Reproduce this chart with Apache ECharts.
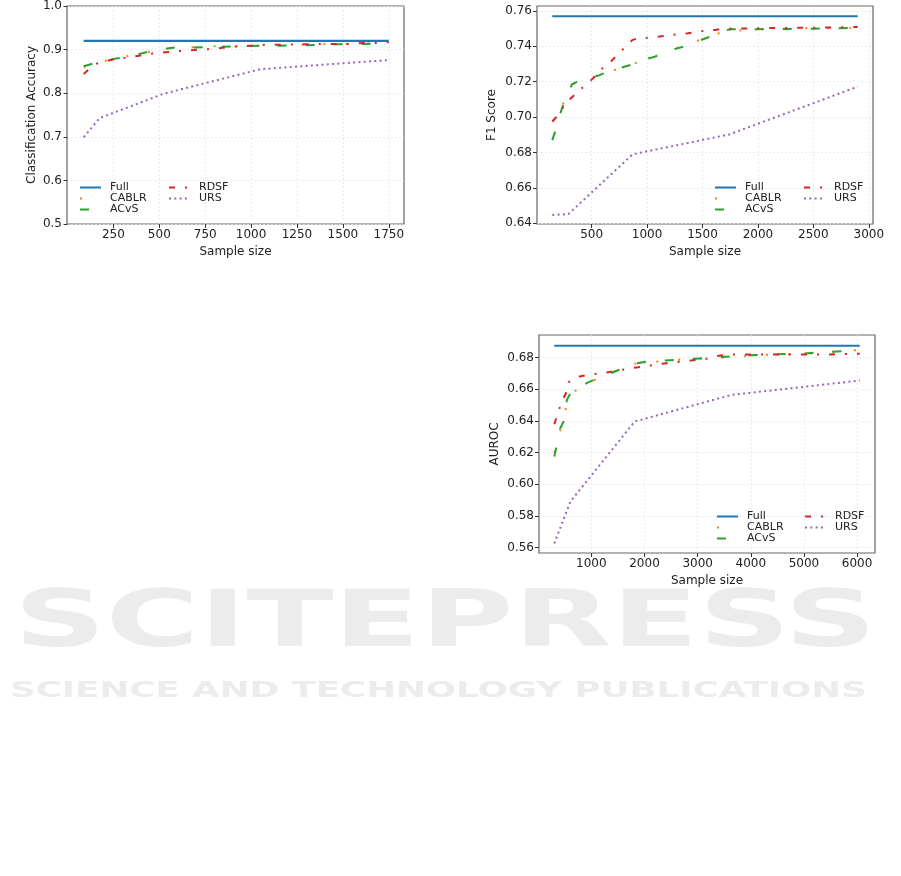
<!DOCTYPE html>
<html>
<head>
<meta charset="utf-8">
<script src="https://cdn.jsdelivr.net/npm/echarts@6/dist/echarts.min.js"></script>
<style>
html,body{margin:0;padding:0;background:#fff;}
#chart{width:901px;height:876px;}
</style>
</head>
<body>
<div id="chart"></div>
<script>
// ---------------- Chart 1: Classification Accuracy ----------------
var accFullX = [88, 1750];
var accFull = [0.920, 0.920];
var accCablrX = [88, 212, 330, 450, 566, 685, 802, 920, 1044, 1165, 1375, 1645, 1750];
var accCablr = [0.860, 0.875, 0.8856, 0.895, 0.903, 0.9055, 0.9078, 0.908, 0.909, 0.9095, 0.9124, 0.914, 0.917];
var accAcvsX = [88, 140, 212, 303, 412, 457, 567, 621, 800, 948, 1110, 1276, 1440, 1605, 1750];
var accAcvs = [0.862, 0.868, 0.876, 0.882, 0.892, 0.897, 0.904, 0.904, 0.906, 0.908, 0.909, 0.9095, 0.912, 0.913, 0.915];
var accRdsfX = [88, 112, 161, 235, 312, 390, 463, 535, 612, 690, 766, 843, 920, 1000, 1080, 1150, 1232, 1307, 1386, 1460, 1537, 1613, 1690, 1750];
var accRdsf = [0.844, 0.853, 0.868, 0.876, 0.881, 0.886, 0.891, 0.894, 0.897, 0.899, 0.901, 0.904, 0.907, 0.909, 0.911, 0.911, 0.912, 0.912, 0.913, 0.913, 0.913, 0.915, 0.915, 0.917];
var accUrsX = [88, 175, 525, 1050, 1750];
var accUrs = [0.699, 0.743, 0.799, 0.855, 0.876];
var accXTicks = [250, 500, 750, 1000, 1250, 1500, 1750];
var accYTicks = [0.5, 0.6, 0.7, 0.8, 0.9, 1.0];

// ---------------- Chart 2: F1 Score ----------------
var f1FullX = [145, 2900];
var f1Full = [0.757, 0.757];
var f1CablrX = [145, 209, 263, 330, 576, 760, 947, 1323, 1510, 1700, 2091, 2296, 2900];
var f1Cablr = [0.6975, 0.6996, 0.712, 0.7185, 0.7237, 0.7278, 0.7316, 0.7401, 0.7444, 0.7485, 0.7497, 0.7501, 0.7504];
var f1AcvsX = [145, 180, 224, 254, 323, 405, 570, 660, 841, 916, 1097, 1178, 1353, 1435, 1609, 1690, 1760, 1900, 2200, 2500, 2900];
var f1Acvs = [0.687, 0.6936, 0.7034, 0.7086, 0.7186, 0.7209, 0.7237, 0.726, 0.7293, 0.7316, 0.7346, 0.7373, 0.7402, 0.7425, 0.7463, 0.7489, 0.7497, 0.7497, 0.7498, 0.750, 0.7505];
var f1RdsfX = [145, 179, 239, 305, 344, 419, 495, 534, 600, 676, 715, 790, 866, 907, 1007, 1112, 1157, 1263, 1368, 1413, 1510, 1615, 1660, 1766, 1907, 2195, 2500, 2900];
var f1Rdsf = [0.6977, 0.6998, 0.7053, 0.7102, 0.7124, 0.7168, 0.7209, 0.7233, 0.7278, 0.7316, 0.734, 0.7388, 0.7435, 0.7444, 0.7448, 0.7455, 0.7459, 0.7467, 0.7474, 0.7478, 0.7487, 0.7493, 0.7497, 0.7501, 0.7501, 0.7504, 0.7505, 0.751];
var f1UrsX = [145, 290, 870, 1740, 2900];
var f1Urs = [0.6447, 0.6452, 0.6790, 0.6902, 0.7172];
var f1XTicks = [500, 1000, 1500, 2000, 2500, 3000];
var f1YTicks = [0.64, 0.66, 0.68, 0.70, 0.72, 0.74, 0.76];

// ---------------- Chart 3: AUROC ----------------
var aucFullX = [302, 6050];
var aucFull = [0.6875, 0.6875];
var aucCablrX = [302, 396, 496, 605, 960, 1358, 1717, 2100, 2540, 2968, 3500, 4207, 4641, 5100, 5887, 6050];
var aucCablr = [0.620, 0.6312, 0.6451, 0.657, 0.6645, 0.6701, 0.6758, 0.677, 0.6785, 0.6795, 0.680, 0.6817, 0.682, 0.6825, 0.6846, 0.6846];
var aucAcvsX = [302, 332, 383, 477, 540, 634, 949, 1170, 1515, 1672, 2049, 2219, 2615, 2774, 3151, 3370, 3747, 3906, 4380, 4950, 5500, 6050];
var aucAcvs = [0.6175, 0.6217, 0.633, 0.6396, 0.6533, 0.6592, 0.6645, 0.6676, 0.6722, 0.6754, 0.6775, 0.678, 0.6785, 0.679, 0.6796, 0.6802, 0.681, 0.6815, 0.682, 0.6825, 0.6837, 0.6844];
var aucRdsfX = [302, 332, 396, 477, 521, 572, 728, 823, 1043, 1264, 1358, 1566, 1786, 1880, 2100, 2302, 2407, 2630, 2836, 2930, 3132, 3351, 3464, 3666, 3962, 4500, 5000, 5500, 6050];
var aucRdsf = [0.638, 0.641, 0.6476, 0.6544, 0.6575, 0.6645, 0.6676, 0.6684, 0.6695, 0.6705, 0.671, 0.6722, 0.6735, 0.6739, 0.675, 0.676, 0.6765, 0.6772, 0.678, 0.6785, 0.679, 0.681, 0.6815, 0.682, 0.682, 0.682, 0.682, 0.682, 0.6825];
var aucUrsX = [302, 605, 1815, 3630, 6050];
var aucUrs = [0.5625, 0.589, 0.6396, 0.6564, 0.6655];
var aucXTicks = [1000, 2000, 3000, 4000, 5000, 6000];
var aucYTicks = [0.56, 0.58, 0.60, 0.62, 0.64, 0.66, 0.68];

var seriesNames = ['Full', 'CABLR', 'ACvS', 'RDSF', 'URS'];
var yNames = ['Classification Accuracy', 'F1 Score', 'AUROC'];
var xName = 'Sample size';

// ---------------- styling ----------------
var FONT = 'DejaVu Sans';
var styles = {
  'Full':  {color: '#1f77b4', type: 'solid', width: 2.2},
  'CABLR': {color: '#ff7f0e', type: [2, 20], width: 2},
  'ACvS':  {color: '#2ca02c', type: [9, 19], width: 2},
  'RDSF':  {color: '#d62728', type: [6, 10, 2, 10], width: 2},
  'URS':   {color: '#9467bd', type: [2, 3.3], width: 2}
};

function zip(xs, ys) { return xs.map(function (x, i) { return [x, ys[i]]; }); }

function mk(name, xs, ys, idx) {
  var s = styles[name];
  return {
    type: 'line', name: name, xAxisIndex: idx, yAxisIndex: idx,
    data: zip(xs, ys), symbol: 'none', showSymbol: false, animation: false,
    silent: true,
    lineStyle: {color: s.color, type: s.type, width: s.width, cap: 'butt'},
    itemStyle: {color: s.color}
  };
}

var grids = [
  {left: 67, top: 6, width: 337, height: 218},
  {left: 537, top: 6, width: 336, height: 218},
  {left: 539, top: 335, width: 336, height: 218}
];
grids.forEach(function (g) {
  g.show = true; g.borderColor = '#666'; g.borderWidth = 1.2; g.backgroundColor = 'transparent';
});

function xAxis(idx, min, max, step, ticks) {
  return {
    type: 'value', gridIndex: idx, min: min, max: max,
    minInterval: step, maxInterval: step,
    name: xName, nameLocation: 'middle', nameGap: 22,
    nameTextStyle: {fontFamily: FONT, fontSize: 12, color: '#222'},
    axisLine: {show: false},
    axisTick: {show: true, length: 4, customValues: ticks, lineStyle: {color: '#333', width: 1}},
    axisLabel: {customValues: ticks, showMinLabel: true, showMaxLabel: true, fontFamily: FONT, fontSize: 12, color: '#222', margin: 5,
      formatter: function (v) { return String(Math.round(v)); }},
    splitLine: {show: true, lineStyle: {color: '#e6e6e6', type: [2, 2], width: 0.8}}
  };
}
function yAxis(idx, min, max, step, ticks, dec, gap) {
  return {
    type: 'value', gridIndex: idx, min: min, max: max,
    minInterval: step, maxInterval: step,
    name: yNames[idx], nameLocation: 'middle', nameGap: gap, nameRotate: 90,
    nameTextStyle: {fontFamily: FONT, fontSize: 12, color: '#222'},
    axisLine: {show: false},
    axisTick: {show: true, length: 4, customValues: ticks, lineStyle: {color: '#333', width: 1}},
    axisLabel: {customValues: ticks, fontFamily: FONT, fontSize: 12, color: '#222', margin: 5,
      formatter: function (v) { return v.toFixed(dec); }},
    splitLine: {show: true, lineStyle: {color: '#e6e6e6', type: [2, 2], width: 0.8}}
  };
}

function legend(names, left, top) {
  return {
    data: names, orient: 'vertical', left: left, top: top, padding: 0,
    itemWidth: 21, itemHeight: 11, itemGap: 0, selectedMode: false,
    itemStyle: {color: 'rgba(0,0,0,0)', borderColor: 'rgba(0,0,0,0)', borderWidth: 0},
    textStyle: {fontFamily: FONT, fontSize: 11, color: '#222', lineHeight: 11, padding: [0, 0, 0, 4]}
  };
}

var series = [];
[[accFullX, accFull], [accCablrX, accCablr], [accAcvsX, accAcvs], [accRdsfX, accRdsf], [accUrsX, accUrs]].forEach(function (p, i) {
  series.push(mk(seriesNames[i], p[0], p[1], 0));
});
[[f1FullX, f1Full], [f1CablrX, f1Cablr], [f1AcvsX, f1Acvs], [f1RdsfX, f1Rdsf], [f1UrsX, f1Urs]].forEach(function (p, i) {
  series.push(mk(seriesNames[i], p[0], p[1], 1));
});
[[aucFullX, aucFull], [aucCablrX, aucCablr], [aucAcvsX, aucAcvs], [aucRdsfX, aucRdsf], [aucUrsX, aucUrs]].forEach(function (p, i) {
  series.push(mk(seriesNames[i], p[0], p[1], 2));
});

var option = {
  animation: false,
  backgroundColor: '#fff',
  grid: grids,
  xAxis: [
    xAxis(0, -3, 1833, 250, accXTicks),
    xAxis(1, 7, 3038, 500, f1XTicks),
    xAxis(2, 15, 6337, 1000, aucXTicks)
  ],
  yAxis: [
    yAxis(0, 0.5, 1.0, 0.1, accYTicks, 1, 29),
    yAxis(1, 0.6396, 0.7628, 0.02, f1YTicks, 2, 39),
    yAxis(2, 0.5565, 0.6943, 0.02, aucYTicks, 2, 38)
  ],
  legend: [
    legend(['Full', 'CABLR', 'ACvS'], 79, 182),
    legend(['RDSF', 'URS'], 168, 182),
    legend(['Full', 'CABLR', 'ACvS'], 714, 182),
    legend(['RDSF', 'URS'], 803, 182),
    legend(['Full', 'CABLR', 'ACvS'], 716, 511),
    legend(['RDSF', 'URS'], 804, 511)
  ],
  graphic: [
    {type: 'text', x: 14, y: 586, z: -10, scaleX: 1.48, scaleY: 0.92, silent: true,
      style: {text: 'SCITEPRESS', font: 'bold 86px "DejaVu Sans"', fill: '#ececec', textVerticalAlign: 'top'}},
    {type: 'text', x: 10, y: 680, z: -10, scaleX: 1.37, scaleY: 0.85, silent: true,
      style: {text: 'SCIENCE AND TECHNOLOGY PUBLICATIONS', font: 'bold 26px "DejaVu Sans"', fill: '#ececec', textVerticalAlign: 'top'}}
  ],
  series: series
};

var chart = echarts.init(document.getElementById('chart'), null, {renderer: 'canvas'});
chart.setOption(option);
</script>
</body>
</html>
